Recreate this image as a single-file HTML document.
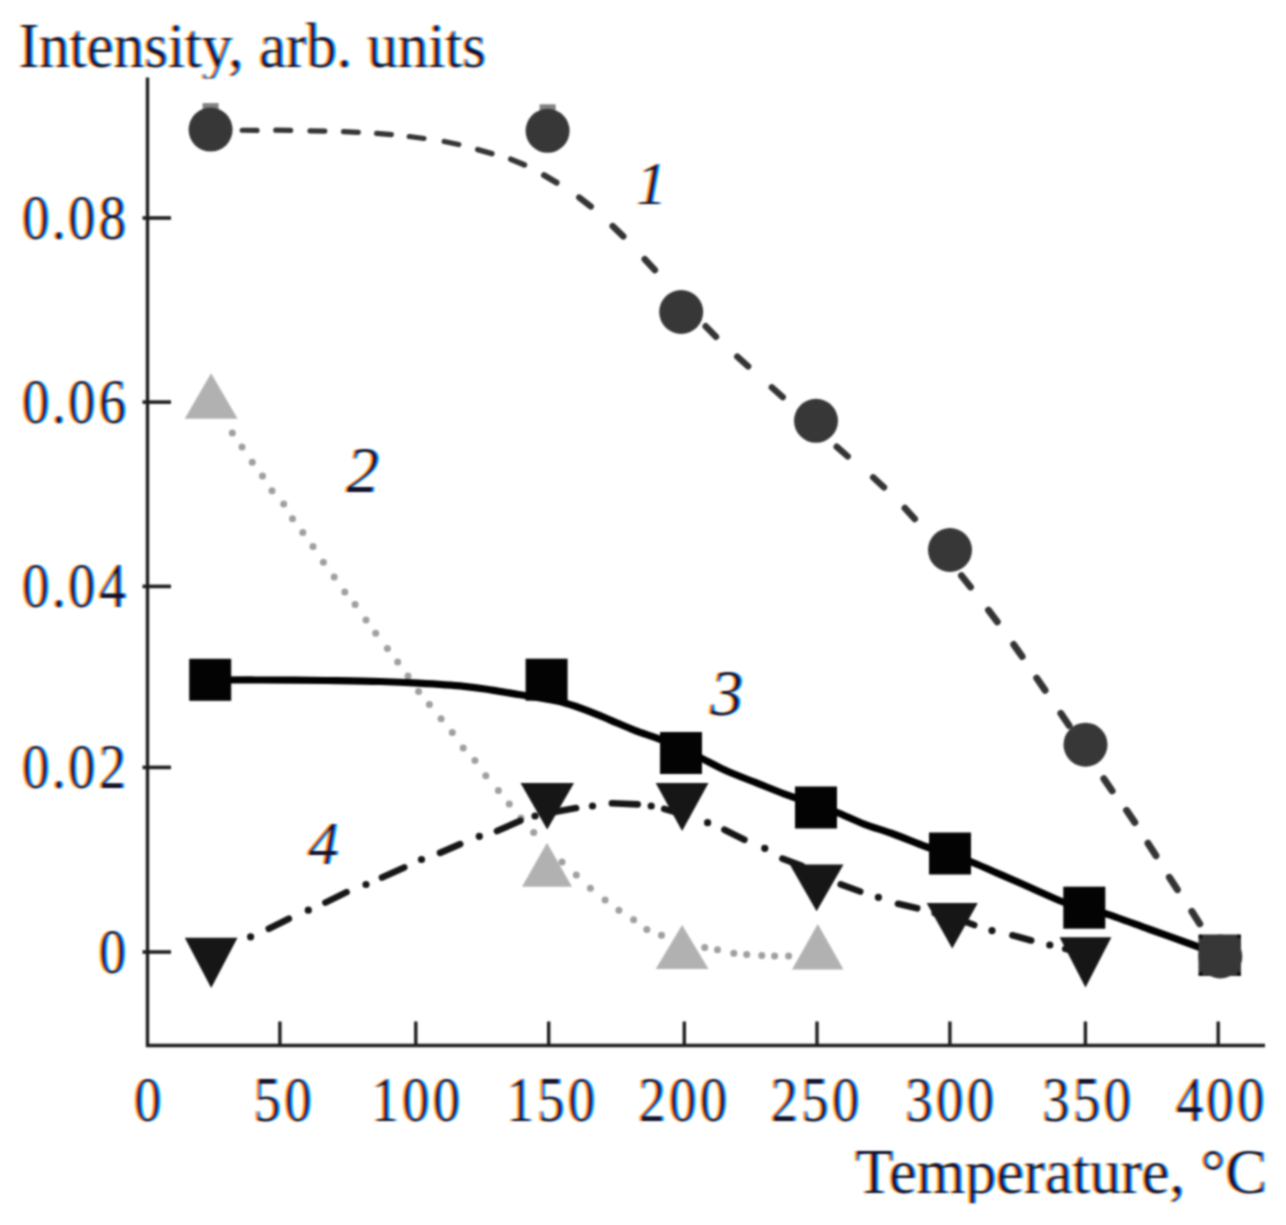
<!DOCTYPE html>
<html><head><meta charset="utf-8"><style>
html,body{margin:0;padding:0;background:#fff;}
svg{display:block;}
</style></head><body>
<svg width="1286" height="1225" viewBox="0 0 1286 1225">
<defs><filter id="bl" x="0" y="0" width="1286" height="1225" filterUnits="userSpaceOnUse" color-interpolation-filters="sRGB"><feConvolveMatrix order="7" kernelMatrix="0.00002 0.00024 0.00107 0.00177 0.00107 0.00024 0.00002 0.00024 0.00292 0.01307 0.02155 0.01307 0.00292 0.00024 0.00107 0.01307 0.05858 0.09658 0.05858 0.01307 0.00107 0.00177 0.02155 0.09658 0.15924 0.09658 0.02155 0.00177 0.00107 0.01307 0.05858 0.09658 0.05858 0.01307 0.00107 0.00024 0.00292 0.01307 0.02155 0.01307 0.00292 0.00024 0.00002 0.00024 0.00107 0.00177 0.00107 0.00024 0.00002" edgeMode="duplicate" divisor="1"/></filter>
<filter id="gb" x="-5%" y="-5%" width="110%" height="110%" color-interpolation-filters="sRGB"><feConvolveMatrix order="5 1" kernelMatrix="0.1 0.22 0.36 0.22 0.1" divisor="1" edgeMode="none"/></filter>
<clipPath id="cl1" clipPathUnits="userSpaceOnUse"><path clip-rule="evenodd" d="M-10,-10H1300V1240H-10Z M200,78.6H240V95H200Z"/></clipPath>
<clipPath id="cl2" clipPathUnits="userSpaceOnUse"><path clip-rule="evenodd" d="M-10,-10H1300V1240H-10Z M955,1203.2H995V1220H955Z"/></clipPath>
<g id="txt"><g font-family="Liberation Serif" font-size="63">
<g clip-path="url(#cl1)"><text transform="translate(18.5,67) scale(0.969,1)">Intensity, arb. units</text></g>
<text transform="translate(20.34,239.00) scale(0.8600,1)" x="2.05 36.63 55.45 91.06">0.08</text>
<text transform="translate(20.34,423.00) scale(0.8600,1)" x="2.05 36.63 55.45 91.06">0.06</text>
<text transform="translate(20.34,607.40) scale(0.8600,1)" x="2.05 36.63 55.45 91.06">0.04</text>
<text transform="translate(20.34,788.40) scale(0.8600,1)" x="2.05 36.63 55.45 91.06">0.02</text>
<text transform="translate(96.88,973.00) scale(0.8600,1)" x="2.05">0</text>
<text transform="translate(132.24,1121.00) scale(0.8600,1)" x="2.11">0</text>
<text transform="translate(251.79,1121.00) scale(0.8600,1)" x="2.11 37.82">50</text>
<text transform="translate(369.53,1121.00) scale(0.8600,1)" x="2.11 37.82 73.53">100</text>
<text transform="translate(504.63,1121.00) scale(0.8600,1)" x="2.11 37.82 73.53">150</text>
<text transform="translate(636.53,1121.00) scale(0.8600,1)" x="2.11 37.82 73.53">200</text>
<text transform="translate(768.73,1121.00) scale(0.8600,1)" x="2.11 37.82 73.53">250</text>
<text transform="translate(903.53,1121.00) scale(0.8600,1)" x="2.11 37.82 73.53">300</text>
<text transform="translate(1040.43,1121.00) scale(0.8600,1)" x="2.11 37.82 73.53">350</text>
<text transform="translate(1173.83,1121.00) scale(0.8600,1)" x="2.11 37.82 73.53">400</text>
<g clip-path="url(#cl2)"><text transform="translate(855,1192.5) scale(0.99,1)">Temperature, °C</text></g>
</g>
<g font-family="Liberation Serif" font-style="italic">
<text x="636" y="203.5" font-size="61">1</text>
<text x="346" y="491.5" font-size="66">2</text>
<text x="710" y="715" font-size="66.5">3</text>
<text x="307.8" y="863.5" font-size="61.5">4</text>
</g></g></defs>
<rect width="1286" height="1225" fill="#fff"/>
<g filter="url(#bl)">
<rect width="1286" height="1225" fill="#fff"/>
<path d="M147.5,77.5 V1045.5 H1265" fill="none" stroke="#1c1c1c" stroke-width="3.4"/>
<line x1="142.5" y1="218" x2="171" y2="218" stroke="#1c1c1c" stroke-width="3.6"/>
<line x1="142.5" y1="402.1" x2="171" y2="402.1" stroke="#1c1c1c" stroke-width="3.6"/>
<line x1="142.5" y1="586.4" x2="171" y2="586.4" stroke="#1c1c1c" stroke-width="3.6"/>
<line x1="142.5" y1="767.4" x2="171" y2="767.4" stroke="#1c1c1c" stroke-width="3.6"/>
<line x1="142.5" y1="952" x2="171" y2="952" stroke="#1c1c1c" stroke-width="3.6"/>
<line x1="279.9" y1="1021.5" x2="279.9" y2="1045" stroke="#1c1c1c" stroke-width="3.4"/>
<line x1="415.8" y1="1021.5" x2="415.8" y2="1045" stroke="#1c1c1c" stroke-width="3.4"/>
<line x1="548.7" y1="1021.5" x2="548.7" y2="1045" stroke="#1c1c1c" stroke-width="3.4"/>
<line x1="684.3" y1="1021.5" x2="684.3" y2="1045" stroke="#1c1c1c" stroke-width="3.4"/>
<line x1="817" y1="1021.5" x2="817" y2="1045" stroke="#1c1c1c" stroke-width="3.4"/>
<line x1="949.9" y1="1021.5" x2="949.9" y2="1045" stroke="#1c1c1c" stroke-width="3.4"/>
<line x1="1085.4" y1="1021.5" x2="1085.4" y2="1045" stroke="#1c1c1c" stroke-width="3.4"/>
<line x1="1218.2" y1="1021.5" x2="1218.2" y2="1045" stroke="#1c1c1c" stroke-width="3.4"/>
<g fill="#9e9e9e"><circle cx="232.3" cy="432.9" r="3.5"/><circle cx="242.0" cy="447.0" r="3.5"/><circle cx="252.3" cy="462.3" r="3.5"/><circle cx="262.5" cy="476.0" r="3.5"/><circle cx="272.0" cy="490.8" r="3.5"/><circle cx="283.7" cy="504.0" r="3.5"/><circle cx="292.5" cy="518.7" r="3.5"/><circle cx="302.8" cy="532.5" r="3.5"/><circle cx="313.0" cy="546.6" r="3.5"/><circle cx="323.4" cy="562.2" r="3.5"/><circle cx="334.2" cy="576.9" r="3.5"/><circle cx="344.8" cy="592.1" r="3.5"/><circle cx="355.1" cy="604.5" r="3.5"/><circle cx="366.0" cy="620.0" r="3.5"/><circle cx="375.7" cy="633.3" r="3.5"/><circle cx="387.4" cy="648.6" r="3.5"/><circle cx="397.7" cy="662.0" r="3.5"/><circle cx="408.0" cy="675.9" r="3.5"/><circle cx="418.6" cy="691.6" r="3.5"/><circle cx="429.4" cy="704.6" r="3.5"/><circle cx="441.1" cy="718.8" r="3.5"/><circle cx="452.3" cy="732.6" r="3.5"/><circle cx="463.2" cy="748.1" r="3.5"/><circle cx="474.9" cy="760.5" r="3.5"/><circle cx="485.8" cy="775.8" r="3.5"/><circle cx="498.4" cy="790.5" r="3.5"/><circle cx="509.3" cy="804.0" r="3.5"/><circle cx="521.0" cy="818.0" r="3.5"/><circle cx="533.7" cy="832.5" r="3.5"/><circle cx="562.0" cy="862.0" r="3.5"/><circle cx="576.3" cy="875.1" r="3.5"/><circle cx="590.4" cy="888.3" r="3.5"/><circle cx="605.1" cy="900.0" r="3.5"/><circle cx="618.9" cy="910.3" r="3.5"/><circle cx="633.6" cy="919.7" r="3.5"/><circle cx="646.8" cy="929.4" r="3.5"/><circle cx="661.5" cy="935.3" r="3.5"/><circle cx="704.7" cy="947.4" r="3.5"/><circle cx="717.5" cy="949.8" r="3.5"/><circle cx="733.8" cy="953.3" r="3.5"/><circle cx="746.7" cy="954.4" r="3.5"/><circle cx="761.8" cy="955.6" r="3.5"/><circle cx="774.6" cy="956.0" r="3.5"/><circle cx="788.6" cy="956.0" r="3.5"/></g>
<g stroke="#151515" stroke-width="6.6" stroke-linecap="round"><line x1="268.8" y1="928.7" x2="288.9" y2="918.7"/><line x1="325.4" y1="902.6" x2="346.6" y2="892.1"/><line x1="382.0" y1="877.6" x2="404.3" y2="867.4"/><line x1="440.0" y1="852.9" x2="460.2" y2="844.1"/><line x1="497.0" y1="831.1" x2="520.4" y2="820.7"/><line x1="550.2" y1="812.8" x2="576.1" y2="808.1"/><line x1="611.9" y1="803.3" x2="637.7" y2="804.4"/><line x1="664.2" y1="808.9" x2="686.8" y2="815.6"/><line x1="724.4" y1="829.8" x2="744.4" y2="839.8"/><line x1="782.4" y1="858.7" x2="801.9" y2="865.9"/><line x1="840.7" y1="884.4" x2="860.2" y2="891.5"/><line x1="898.0" y1="903.8" x2="917.2" y2="908.3"/><line x1="953.1" y1="917.2" x2="974.2" y2="925.0"/><line x1="1012.4" y1="935.3" x2="1031.2" y2="940.5"/><line x1="1065.2" y1="948.8" x2="1081.8" y2="953.2"/></g>
<g fill="#151515"><circle cx="250.6" cy="936.8" r="3.6"/><circle cx="308.3" cy="910.2" r="3.6"/><circle cx="366.0" cy="884.5" r="3.6"/><circle cx="421.5" cy="859.5" r="3.6"/><circle cx="479.3" cy="836.3" r="3.6"/><circle cx="535.0" cy="816.0" r="3.6"/><circle cx="592.5" cy="806.0" r="3.6"/><circle cx="651.2" cy="806.0" r="3.6"/><circle cx="707.6" cy="822.7" r="3.6"/><circle cx="764.8" cy="848.3" r="3.6"/><circle cx="821.0" cy="876.0" r="3.6"/><circle cx="878.4" cy="897.3" r="3.6"/><circle cx="935.0" cy="913.0" r="3.6"/><circle cx="992.0" cy="930.6" r="3.6"/><circle cx="1049.8" cy="945.0" r="3.6"/></g>
<path d="M210.7,680.0 C218.9,680.0 240.8,679.9 260.0,680.0 C279.2,680.1 305.8,680.2 325.8,680.5 C345.8,680.8 364.6,681.0 380.0,681.5 C395.4,682.0 404.3,682.4 418.3,683.2 C432.3,684.0 451.7,685.2 464.0,686.4 C476.3,687.5 482.7,688.7 492.0,690.1 C501.3,691.5 511.0,693.3 520.0,694.8 C529.0,696.3 538.4,697.6 546.0,699.0 C553.6,700.4 558.7,701.2 565.7,703.2 C572.7,705.2 580.5,708.0 588.0,710.8 C595.5,713.6 602.6,716.8 610.4,720.1 C618.2,723.4 626.6,727.3 634.7,730.4 C642.8,733.5 651.2,735.9 658.9,738.8 C666.6,741.7 673.9,744.7 681.0,748.0 C688.1,751.3 694.0,754.5 701.8,758.4 C709.6,762.3 719.0,767.5 728.0,771.5 C737.0,775.5 746.7,779.0 756.0,782.7 C765.3,786.4 775.3,790.6 784.0,793.8 C792.7,797.0 799.3,799.0 808.0,802.0 C816.7,805.0 826.7,808.3 836.0,812.0 C845.3,815.7 854.7,820.5 864.0,824.1 C873.3,827.7 881.7,829.8 892.0,833.5 C902.3,837.2 916.3,843.1 925.6,846.5 C934.9,849.9 940.5,851.5 948.0,854.0 C955.5,856.5 962.6,858.5 970.4,861.5 C978.2,864.5 986.3,868.4 994.6,872.0 C1002.9,875.6 1008.5,878.0 1020.0,883.0 C1031.5,888.0 1053.1,898.0 1063.8,902.2 C1074.5,906.4 1077.2,906.1 1084.0,908.0 C1090.8,909.9 1093.9,909.8 1104.9,913.4 C1115.9,917.0 1134.6,924.0 1150.0,929.5 C1165.4,935.0 1185.7,942.4 1197.3,946.5 C1208.9,950.6 1216.0,952.8 1219.7,954.0" fill="none" stroke="#000" stroke-width="7.2" stroke-linejoin="round"/>
<g stroke="#333" stroke-linecap="round"><line x1="242.20" y1="130.23" x2="257.00" y2="130.37" stroke-width="5.20"/><line x1="275.80" y1="130.22" x2="290.60" y2="130.38" stroke-width="5.20"/><line x1="310.00" y1="130.81" x2="324.80" y2="131.19" stroke-width="5.20"/><line x1="343.51" y1="131.67" x2="358.29" y2="132.33" stroke-width="5.21"/><line x1="376.63" y1="133.38" x2="391.37" y2="134.62" stroke-width="5.22"/><line x1="409.27" y1="136.52" x2="423.93" y2="138.48" stroke-width="5.25"/><line x1="444.26" y1="141.50" x2="458.74" y2="144.50" stroke-width="5.32"/><line x1="477.71" y1="149.55" x2="491.89" y2="153.65" stroke-width="5.42"/><line x1="510.79" y1="159.26" x2="524.41" y2="164.94" stroke-width="5.62"/><line x1="543.97" y1="175.15" x2="556.63" y2="182.65" stroke-width="5.92"/><line x1="579.18" y1="197.50" x2="590.82" y2="206.50" stroke-width="6.21"/><line x1="612.71" y1="226.09" x2="623.29" y2="236.31" stroke-width="6.47"/><line x1="644.78" y1="259.23" x2="654.82" y2="269.97" stroke-width="6.59"/><line x1="705.66" y1="326.25" x2="715.94" y2="336.75" stroke-width="6.54"/><line x1="737.27" y1="356.54" x2="748.13" y2="366.46" stroke-width="6.41"/><line x1="771.83" y1="387.39" x2="782.77" y2="397.21" stroke-width="6.39"/><line x1="836.68" y1="446.74" x2="847.72" y2="456.46" stroke-width="6.36"/><line x1="873.18" y1="477.44" x2="884.02" y2="487.36" stroke-width="6.41"/><line x1="904.82" y1="508.09" x2="914.78" y2="518.91" stroke-width="6.61"/><line x1="961.42" y1="575.65" x2="970.58" y2="587.15" stroke-width="6.77"/><line x1="988.48" y1="610.12" x2="997.32" y2="621.88" stroke-width="6.83"/><line x1="1013.67" y1="644.49" x2="1022.13" y2="656.51" stroke-width="6.90"/><line x1="1036.75" y1="678.13" x2="1045.05" y2="690.27" stroke-width="6.93"/><line x1="1060.86" y1="713.42" x2="1069.14" y2="725.58" stroke-width="6.93"/><line x1="1103.87" y1="778.71" x2="1112.13" y2="790.89" stroke-width="6.93"/><line x1="1126.56" y1="810.32" x2="1134.84" y2="822.48" stroke-width="6.93"/><line x1="1148.05" y1="843.29" x2="1155.95" y2="855.71" stroke-width="6.99"/><line x1="1169.42" y1="877.31" x2="1177.38" y2="889.69" stroke-width="6.98"/><line x1="1191.85" y1="911.39" x2="1199.75" y2="923.81" stroke-width="6.99"/></g>
<polygon points="211.1,373.2 237.6,418.8 184.7,418.8" fill="#b1b1b1"/>
<polygon points="547.0,842.8 572.0,886.8 522.0,886.8" fill="#b1b1b1"/>
<polygon points="682.1,925.0 708.5,969.0 655.7,969.0" fill="#b1b1b1"/>
<polygon points="817.8,924.0 843.5,969.6 792.0,969.6" fill="#b1b1b1"/>
<polygon points="184.8,937.8 237.5,937.8 211.2,988.0" fill="#161616"/>
<polygon points="520.5,783.0 574.0,783.0 547.2,829.5" fill="#161616"/>
<polygon points="655.7,783.0 708.5,783.0 682.1,831.0" fill="#161616"/>
<polygon points="789.8,864.6 843.5,864.6 816.6,911.3" fill="#161616"/>
<polygon points="926.6,903.0 977.8,903.0 952.2,948.4" fill="#161616"/>
<polygon points="1059.6,937.2 1111.4,937.2 1085.5,987.6" fill="#161616"/>
<rect x="189.2" y="658.8" width="42" height="42" fill="#030303"/>
<rect x="525.6" y="658.7" width="42" height="42" fill="#030303"/>
<rect x="660.0" y="732.0" width="42" height="42" fill="#030303"/>
<rect x="795.0" y="786.5" width="42" height="42" fill="#030303"/>
<rect x="929.0" y="832.5" width="42" height="42" fill="#030303"/>
<rect x="1063.3" y="886.7" width="42" height="42" fill="#030303"/>
<rect x="1198.5" y="934.5" width="42.5" height="41.5" fill="#363636"/>
<circle cx="1200.6" cy="936.6" r="2" fill="#0a0a0a"/>
<circle cx="1238.9" cy="936.6" r="2" fill="#0a0a0a"/>
<circle cx="1200.6" cy="973.9" r="2" fill="#0a0a0a"/>
<circle cx="1238.9" cy="973.9" r="2" fill="#0a0a0a"/>
<rect x="202.6" y="103.1" width="16" height="6" fill="#808080"/>
<circle cx="210.6" cy="129.6" r="22" fill="#373737"/>
<rect x="539.6" y="104.3" width="16" height="6" fill="#808080"/>
<circle cx="547.6" cy="130.8" r="22" fill="#373737"/>
<circle cx="681.2" cy="312.0" r="22" fill="#373737"/>
<circle cx="816.0" cy="420.8" r="22" fill="#373737"/>
<circle cx="950.0" cy="550.0" r="22" fill="#373737"/>
<circle cx="1085.5" cy="744.7" r="22" fill="#373737"/>
<circle cx="1220.3" cy="956.5" r="22" fill="#373737"/>
<use href="#txt" fill="rgb(15,255,255)" stroke="rgb(15,255,255)" stroke-width="0.00" transform="translate(1.60,0)" style="mix-blend-mode:multiply"/>
<use href="#txt" fill="rgb(255,15,255)" stroke="rgb(255,15,255)" stroke-width="0.00" style="mix-blend-mode:multiply" filter="url(#gb)"/>
<use href="#txt" fill="rgb(255,255,40)" stroke="rgb(255,255,40)" stroke-width="0.00" transform="translate(-1.60,0)" style="mix-blend-mode:multiply"/>
</g>
</svg>
</body></html>
